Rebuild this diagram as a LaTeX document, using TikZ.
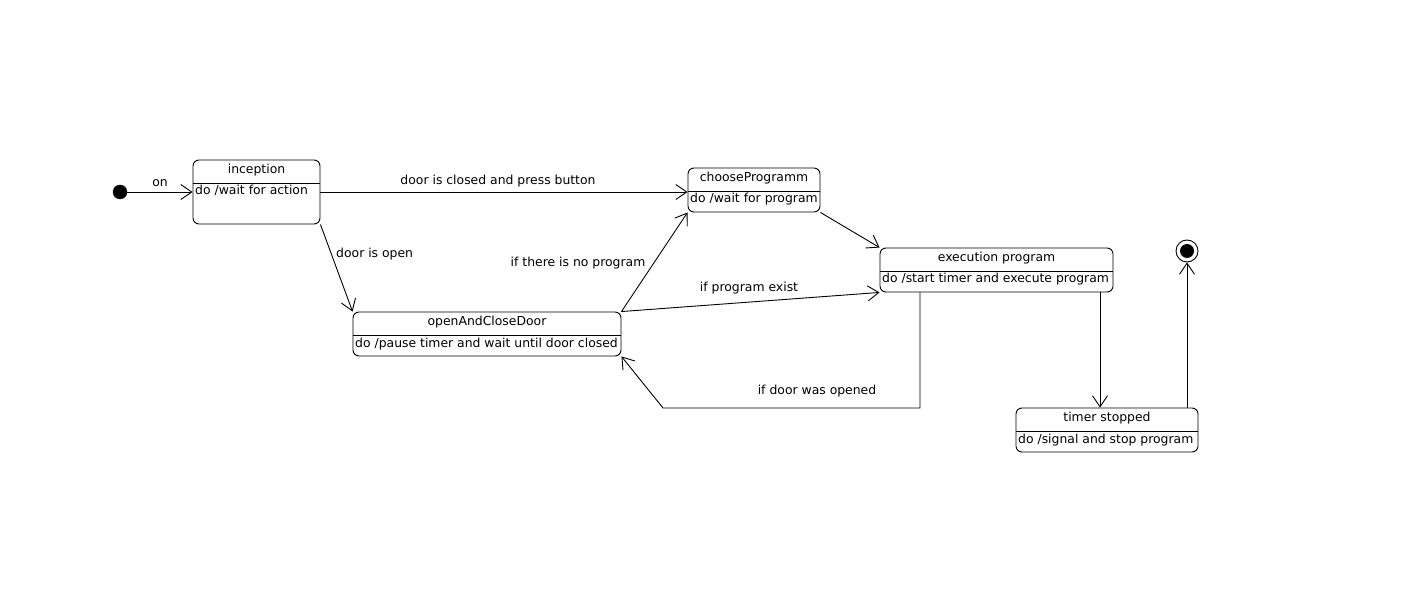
\documentclass[tikz,border=0pt]{standalone}
\usepackage{fontspec}
\setmainfont{DejaVu Sans}
\usetikzlibrary{arrows.meta}
\begin{document}
\begin{tikzpicture}[x=1pt,y=-1pt,
 font=\fontsize{12.4}{14}\selectfont,
 st/.style={draw,rounded corners=6pt,inner sep=0pt,line width=0.9pt},
 tr/.style={draw,line width=0.9pt,-{Straight Barb[length=11pt,width=15pt,line width=0.9pt]}},
 lbl/.style={inner sep=0pt}]
\useasboundingbox[fill=white] (0,0) rectangle (1408,612);

% states
\node[st,minimum width=127pt,minimum height=64pt] (inc) at (256.5,192) {};
\draw[line width=0.9pt] (inc.west |- 0,183) -- (inc.east |- 0,183);
\node[lbl,anchor=base] (incT) at (256.5,174) {inception};
\node[lbl,anchor=base west] (incB) at (195,195) {do /wait for action};

\node[st,minimum width=268pt,minimum height=44pt] (oac) at (487,334) {};
\draw[line width=0.9pt] (oac.west |- 0,335) -- (oac.east |- 0,335);
\node[lbl,anchor=base] (oacT) at (487,325) {openAndCloseDoor};
\node[lbl,anchor=base west] (oacB) at (355,347) {do /pause timer and wait until door closed};

\node[st,minimum width=132pt,minimum height=44pt] (ch) at (754,190) {};
\draw[line width=0.9pt] (ch.west |- 0,191) -- (ch.east |- 0,191);
\node[lbl,anchor=base] (chT) at (754,182) {chooseProgramm};
\node[lbl,anchor=base west] (chB) at (690,203) {do /wait for program};

\node[st,minimum width=233pt,minimum height=44pt] (ex) at (996.5,270) {};
\draw[line width=0.9pt] (ex.west |- 0,271) -- (ex.east |- 0,271);
\node[lbl,anchor=base] (exT) at (996.5,262) {execution program};
\node[lbl,anchor=base west] (exB) at (882,283) {do /start timer and execute program};

\node[st,minimum width=182pt,minimum height=44pt] (tm) at (1107,430) {};
\draw[line width=0.9pt] (tm.west |- 0,431) -- (tm.east |- 0,431);
\node[lbl,anchor=base] (tmT) at (1107,421) {timer stopped};
\node[lbl,anchor=base west] (tmB) at (1018,443) {do /signal and stop program};

% pseudo states
\node[circle,draw,fill=black,minimum size=14pt,inner sep=0pt] (init) at (120,192) {};
\node[circle,draw,line width=0.9pt,minimum size=22pt,inner sep=0pt] (fin) at (1187,251) {};
\node[circle,fill=black,minimum size=14pt,inner sep=0pt] (finD) at (fin) {};

% transitions
\draw[tr] (init.east) -- (inc.west);
\node[lbl] (l1) at (160,183) {on};

\draw[tr] (inc.east) -- (inc.east -| ch.west);
\node[lbl] (l2) at (498,181) {door is closed and press button};

\draw[tr] (inc.south east) -- (oac.north west);
\node[lbl,anchor=west] (l3) at (336,254) {door is open};

\draw[tr] (oac.north east) -- (ch.south west);
\node[lbl] (l4) at (578,263) {if there is no program};

\draw[tr] (oac.north east) -- (ex.south west);
\node[lbl] (l5) at (749,288) {if program exist};

\draw[tr] (ch.south east) -- (ex.north west);

\coordinate (b1) at (920,408);
\coordinate (b2) at (663,408);
\draw[tr] (ex.south -| b1) -- (b1) -- (b2) -- (oac.south east);
\node[lbl] (l6) at (817,391) {if door was opened};

\coordinate (c1) at (1100,300);
\draw[tr] (ex.south -| c1) -- (tm.north -| c1);

\draw[tr] (tm.north -| fin) -- (fin.south);
\end{tikzpicture}
\end{document}
